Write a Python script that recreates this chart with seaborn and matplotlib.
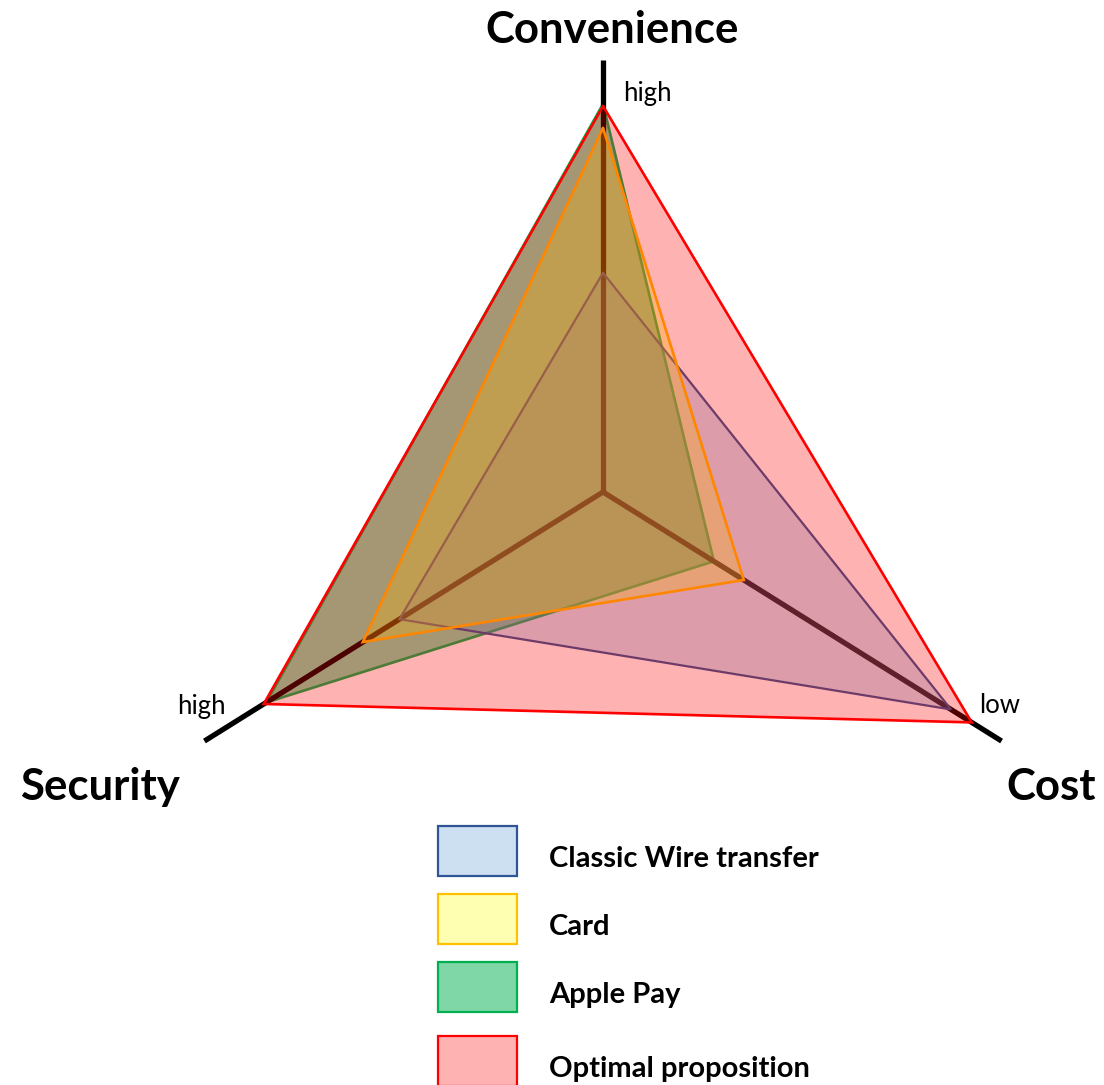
import numpy as np
import matplotlib
matplotlib.use("Agg")
import matplotlib.pyplot as plt
from matplotlib.patches import Rectangle
import seaborn as sns

# ---- data -------------------------------------------------------------
criteria = ["Convenience", "Cost", "Security"]
criteria_angle_deg = [90, 328, 212]
criteria_extent = [10.8, 11.75, 11.75]
criteria_end_label = ["high", "low", "high"]

series_names = ["Classic Wire transfer", "Card", "Apple Pay", "Optimal proposition"]
wire_transfer = [5.48, 10.26, 6.0]
card = [9.1, 4.15, 7.08]
apple_pay = [9.7, 3.27, 9.93]
optimal = [9.65, 10.87, 10.0]

# ---- style ------------------------------------------------------------
sns.set_theme(style="white")
plt.rcParams["font.family"] = ["Lato", "DejaVu Sans"]

W, H = 1104, 1085
fig = plt.figure(figsize=(W / 100, H / 100), dpi=100)
fig.patch.set_facecolor("white")

# polar axes centred on the radar hub; 1 score unit = 40 px
cx, cy, unit, rmax = 603, 492, 40, 12
rad_px = unit * rmax
ax = fig.add_axes([(cx - rad_px) / W, (H - cy - rad_px) / H,
                   2 * rad_px / W, 2 * rad_px / H], projection="polar")
ax.set_ylim(0, rmax)
ax.set_axis_off()

theta = np.deg2rad(criteria_angle_deg)


def closed(values):
    t = np.append(theta, theta[0])
    r = np.append(values, values[0])
    return t, r


styles = {
    "Classic Wire transfer": dict(fill="#5b9bd5", alpha=0.30, edge="#2f5597", lw=1.6, z=3),
    "Card": dict(fill="#ffff00", alpha=0.30, edge="#ffc000", lw=1.9, z=4),
    "Apple Pay": dict(fill="#00b050", alpha=0.50, edge="#00b050", lw=1.9, z=1),
    "Optimal proposition": dict(fill="#ff0000", alpha=0.30, edge="#ff0000", lw=1.9, z=5),
}
series_values = {
    "Classic Wire transfer": wire_transfer,
    "Card": card,
    "Apple Pay": apple_pay,
    "Optimal proposition": optimal,
}

for name in series_names:
    st = styles[name]
    t, r = closed(series_values[name])
    ax.fill(t, r, facecolor=st["fill"], alpha=st["alpha"], edgecolor="none",
            zorder=st["z"])
    ax.plot(t, r, color=st["edge"], lw=st["lw"], zorder=st["z"] + 0.1,
            solid_joinstyle="miter")

# criterion axes from the hub outward
for th, ext in zip(theta, criteria_extent):
    ax.plot([th, th], [0, ext], color="black", lw=3.8, zorder=2,
            solid_capstyle="butt")

# ---- text -------------------------------------------------------------
def fx(px):
    return px / W


def fy(py):
    return 1 - py / H


title_pos = {"Convenience": (612, 43), "Cost": (1051, 800), "Security": (100, 800)}
for name in criteria:
    x, y = title_pos[name]
    fig.text(fx(x), fy(y), name, ha="center", va="baseline",
             fontsize=31.5, fontweight="bold", color="black")

end_pos = [(623, 101, "left"), (1000, 713, "center"), (201, 714, "center")]
for lab, (x, y, ha) in zip(criteria_end_label, end_pos):
    fig.text(fx(x), fy(y), lab, ha=ha, va="baseline", fontsize=18.5, color="black")

# ---- legend -----------------------------------------------------------
box_left, box_w, box_h = 438, 79, 50
box_tops = [826, 894, 962, 1036]
text_baselines = [867, 935, 1003, 1077]
for name, top, base in zip(series_names, box_tops, text_baselines):
    st = styles[name]
    fig.add_artist(Rectangle((fx(box_left), fy(top + box_h)), box_w / W, box_h / H,
                             transform=fig.transFigure, facecolor=st["fill"],
                             alpha=st["alpha"], edgecolor="none"))
    fig.add_artist(Rectangle((fx(box_left), fy(top + box_h)), box_w / W, box_h / H,
                             transform=fig.transFigure, facecolor="none",
                             edgecolor=st["edge"], lw=1.6))
    fig.text(fx(549), fy(base), name, ha="left", va="baseline",
             fontsize=21, fontweight="bold", color="black")

fig.savefig("out.png", dpi=100, facecolor="white")
